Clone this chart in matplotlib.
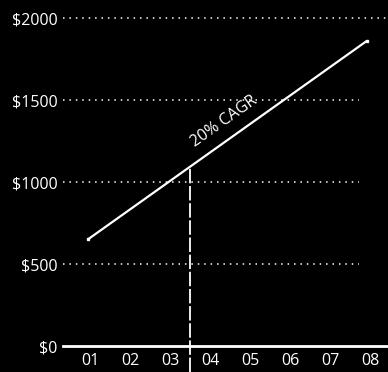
import numpy as np
import matplotlib
matplotlib.use("Agg")
from matplotlib import pyplot as plt

years = ["01", "02", "03", "04", "05", "06", "07", "08"]
year_pos = np.arange(1, 9)
levels = [0, 500, 1000, 1500, 2000]
level_labels = ["$0", "$500", "$1000", "$1500", "$2000"]

# trend line: start and end of the 20% CAGR run
trend_x = [0.95, 7.9]
trend_y = [650, 1860]
split_x = 3.5  # marker between year 03 and 04

plt.rcParams['font.family'] = ['Open Sans', 'DejaVu Sans']

fig = plt.figure(figsize=(3.88, 3.72), dpi=100, facecolor="black")
ax = fig.add_axes([63 / 388, 26 / 372, 325 / 388, 346 / 372])
ax.set_facecolor("black")
ax.set_xlim(0.33, 8.43)
ax.set_ylim(0, 2110)

# dotted guides
grid_ends = [7.7, 7.7, 7.7, 8.4]
for lvl, end in zip(levels[1:], grid_ends):
    ax.plot([0.33, end], [lvl, lvl], color="white", lw=1.1,
            linestyle=(0, (1, 3.2)), clip_on=False)

# baseline
ax.axhline(0, color="white", lw=2, clip_on=False)

# vertical split line, running down past the labels
split_top = np.interp(split_x, trend_x, trend_y)
ax.plot([split_x, split_x], [-160, split_top], color="white", lw=1.3,
        linestyle=(0, (8, 1.5)), clip_on=False)

ax.plot(trend_x, trend_y, color="white", lw=1.6, marker="s", markersize=2,
        solid_capstyle="butt")

ax.text(4.45, 1330, "20% CAGR", color="white", fontsize=11.5, rotation=35.3,
        rotation_mode="anchor", ha="center", va="bottom")

for s in ax.spines.values():
    s.set_visible(False)
ax.set_xticks(year_pos)
ax.set_xticklabels(years)
ax.set_yticks(levels)
ax.set_yticklabels(level_labels)
ax.tick_params(colors="white", labelsize=11.5, length=0, pad=4)
ax.tick_params(axis="x", pad=5)

fig.savefig("out.png", dpi=100, facecolor="black")
